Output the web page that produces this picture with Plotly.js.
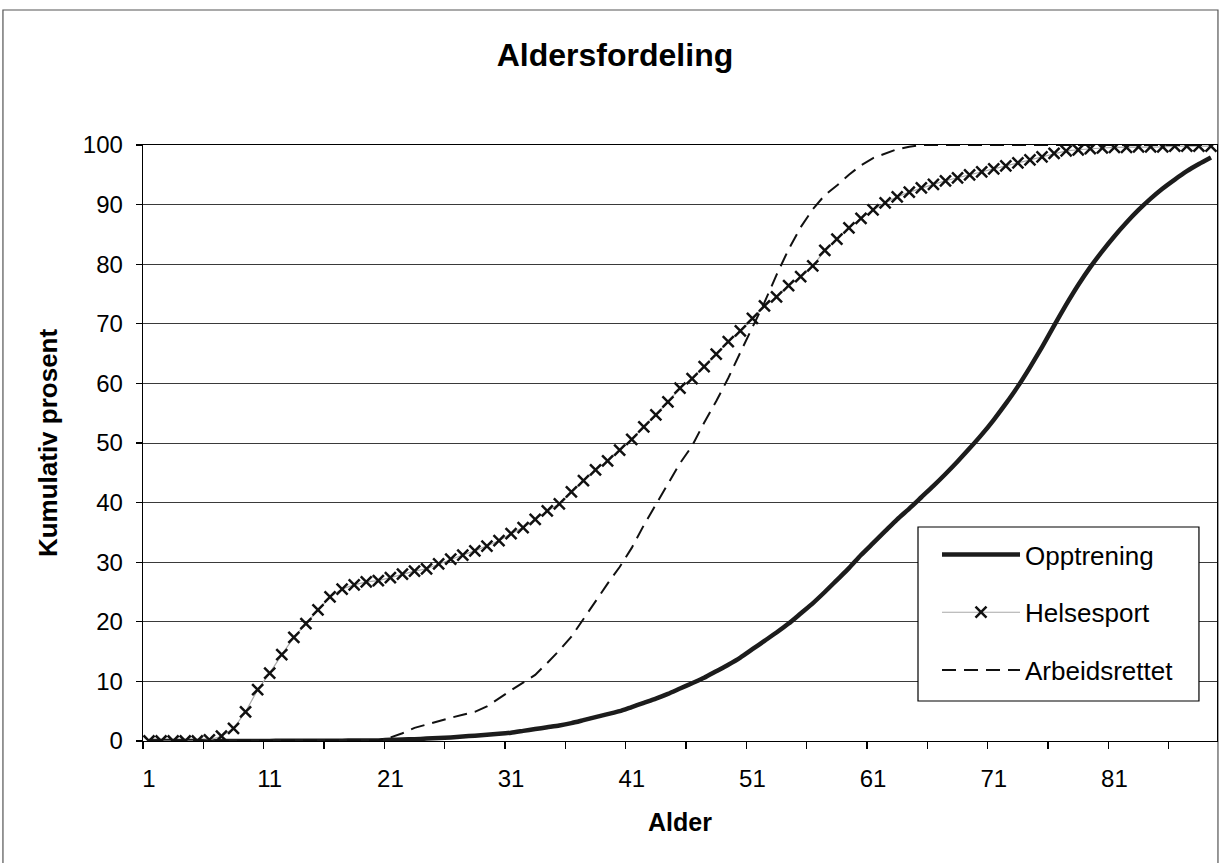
<!DOCTYPE html>
<html>
<head>
<meta charset="utf-8">
<script src="https://cdn.plot.ly/plotly-3.0.1.min.js"></script>
<style>
  html, body { margin: 0; padding: 0; background: #fff; }
  #chart { width: 1219px; height: 863px; }
</style>
</head>
<body>
<div id="chart"></div>
<script>
// Categories (age)
const ages = [1,2,3,4,5,6,7,8,9,10,11,12,13,14,15,16,17,18,19,20,
  21,22,23,24,25,26,27,28,29,30,31,32,33,34,35,36,37,38,39,40,
  41,42,43,44,45,46,47,48,49,50,51,52,53,54,55,56,57,58,59,60,
  61,62,63,64,65,66,67,68,69,70,71,72,73,74,75,76,77,78,79,80,
  81,82,83,84,85,86,87,88,89];

// Cumulative percent series
const opptrening = [0,0,0,0,0,0,0,0,0,0,0.02,0.03,0.03,0.04,0.05,0.05,0.06,0.07,0.08,0.1,
  0.2,0.25,0.3,0.4,0.5,0.6,0.75,0.9,1.05,1.2,1.4,1.7,2.0,2.3,2.6,3.0,3.5,4.0,4.5,5.0,
  5.7,6.4,7.1,7.9,8.8,9.7,10.6,11.7,12.8,14.0,15.4,16.8,18.2,19.7,21.4,23.1,25.0,27.0,29.0,31.2,
  33.2,35.2,37.2,39.0,40.9,42.8,44.8,46.9,49.1,51.4,53.9,56.6,59.5,62.7,66.1,69.7,73.2,76.5,79.5,82.2,
  84.7,87.0,89.1,91.0,92.7,94.2,95.6,96.8,97.9];

const helsesport = [0,0,0,0,0,0.2,0.8,2.1,4.9,8.6,11.4,14.5,17.4,19.7,22.0,24.2,25.5,26.2,26.7,26.9,
  27.4,28.0,28.5,28.9,29.7,30.5,31.2,31.9,32.7,33.6,34.8,35.8,37.2,38.6,39.8,41.8,43.7,45.5,47.0,48.8,
  50.6,52.7,54.7,56.9,59.2,60.8,62.8,64.9,67.0,68.8,70.9,73.0,74.5,76.4,77.9,79.7,82.3,84.2,86.1,87.7,
  89.1,90.3,91.3,92.1,92.8,93.4,94.0,94.5,95.0,95.5,96.0,96.5,97.0,97.5,98.0,98.6,99.0,99.2,99.4,99.5,
  99.6,99.6,99.7,99.7,99.7,99.8,99.8,99.8,99.8];

const arbeidsrettet = [0,0,0,0,0,0,0,0,0,0,0,0,0,0,0,0,0,0,0,0.1,
  0.6,1.3,2.2,2.8,3.3,3.9,4.4,4.9,5.8,7.2,8.5,9.8,11.1,13.1,15.2,17.5,20.5,23.5,26.4,29.2,
  32.4,36.2,39.7,43.0,46.6,49.5,53.4,57.0,60.9,65.2,69.3,73.6,78.2,82.5,86.2,89.2,91.6,93.2,95.0,96.6,
  97.8,98.6,99.3,99.7,100,100,100,100,100,100,100,100,100,100,100,100,100,100,100,100,
  100,100,100,100,100,100,100,100,100];

// Tick labels
const xTickVals = [1,11,21,31,41,51,61,71,81];
const xTickText = ['1','11','21','31','41','51','61','71','81'];
const yTickVals = [0,10,20,30,40,50,60,70,80,90,100];

const FONT = '"Liberation Sans", Arial, Helvetica, sans-serif';

const traces = [
  {
    x: ages, y: opptrening, name: 'Opptrening', type: 'scatter', mode: 'lines',
    line: { color: '#1c1c1c', width: 4.5, shape: 'spline', smoothing: 0.6 }, legendgroup: 'a'
  },
  {
    x: ages, y: helsesport, name: 'Helsesport', type: 'scatter', mode: 'lines+markers',
    line: { color: '#a8a8a8', width: 1.2 },
    marker: { symbol: 'x-thin', size: 11, color: '#111', line: { color: '#111', width: 2.5 } },
    legendgroup: 'b'
  },
  {
    x: ages, y: arbeidsrettet, name: 'Arbeidsrettet', type: 'scatter', mode: 'lines',
    line: { color: '#111', width: 2, dash: '14px,8px' }, legendgroup: 'c'
  }
];

const layout = {
  width: 1219, height: 863,
  margin: { l: 143, r: 2, t: 145, b: 122 },
  paper_bgcolor: '#fff', plot_bgcolor: '#fff',
  font: { family: FONT, color: '#000', size: 24 },
  title: {
    text: '<b>Aldersfordeling</b>',
    font: { family: FONT, size: 32, color: '#000' },
    xref: 'container', x: 0.5045, xanchor: 'center',
    yref: 'container', y: 0.937, yanchor: 'middle'
  },
  xaxis: {
    range: [0.5, 89.5], type: 'linear',
    tickmode: 'array', tickvals: xTickVals, ticktext: xTickText,
    ticks: '', ticklabelstandoff: 16,
    tickfont: { family: FONT, size: 24, color: '#000' },
    showgrid: false, zeroline: false,
    showline: true, linecolor: '#000', linewidth: 1.3, mirror: true,
    minor: { tick0: 0.5, dtick: 5, ticks: 'outside', ticklen: 7, tickwidth: 1.2, tickcolor: '#000', showgrid: false },
    title: { text: '<b>Alder</b>', font: { family: FONT, size: 25, color: '#000' }, standoff: 22 }
  },
  yaxis: {
    range: [0, 100], tickmode: 'array', tickvals: yTickVals,
    ticks: 'outside', ticklen: 6, tickwidth: 1.2, tickcolor: '#000',
    ticklabelstandoff: 8,
    tickfont: { family: FONT, size: 24, color: '#000' },
    showgrid: true, gridcolor: '#3a3a3a', gridwidth: 1,
    zeroline: false,
    showline: true, linecolor: '#000', linewidth: 1.3, mirror: true,
    title: { text: '<b>Kumulativ prosent</b>', font: { family: FONT, size: 26, color: '#000' }, standoff: 17 }
  },
  legend: {
    x: 0.7393, y: 0.3523, xanchor: 'left', yanchor: 'top',
    bgcolor: 'rgba(0,0,0,0)', borderwidth: 0,
    font: { family: FONT, size: 26, color: '#000' },
    traceorder: 'grouped', tracegroupgap: 21, itemwidth: 78
  },
  shapes: [
    {
      type: 'rect', xref: 'paper', yref: 'paper',
      x0: -0.1304, x1: 1.0009, y0: -0.22, y1: 1.2265,
      line: { color: '#555', width: 1.2 }, fillcolor: 'rgba(0,0,0,0)', layer: 'below'
    },
    {
      type: 'rect', xref: 'paper', yref: 'paper',
      x0: 0.7216, x1: 0.9832, y0: 0.0671, y1: 0.3591,
      line: { color: '#000', width: 1.2 }, fillcolor: '#fff', layer: 'above'
    }
  ],
  showlegend: true
};

Plotly.newPlot('chart', traces, layout, { displayModeBar: false, staticPlot: true });
</script>
</body>
</html>
